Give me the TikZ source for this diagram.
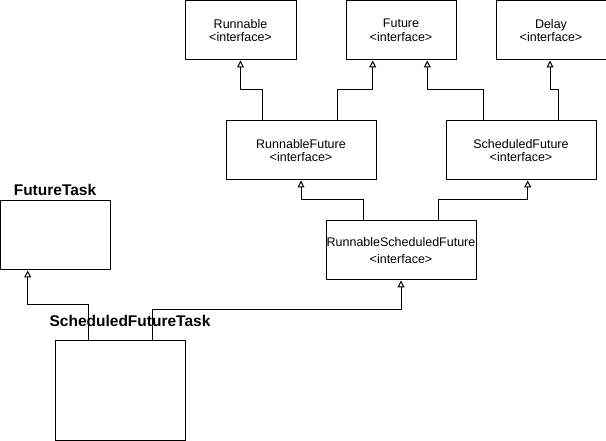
\documentclass[tikz,border=0pt]{standalone}
\usepackage{fontspec}
\setmainfont{Liberation Sans}
\usetikzlibrary{arrows.meta}
\begin{document}
\begin{tikzpicture}[x=1pt,y=-1pt,
  iface/.style={draw=black, line width=1pt, fill=white, inner sep=0pt, align=center,
    font=\fontsize{12.5}{13.5}\selectfont, minimum width=150pt, minimum height=59pt},
  cls/.style={draw=black, line width=1pt, fill=white, inner sep=0pt},
  title/.style={inner sep=0pt, font=\fontsize{15.5}{18}\selectfont\bfseries},
  arr/.style={draw=black, line width=1pt, -{Triangle[open, length=7pt, width=7pt]}}]
\useasboundingbox (0,0) rectangle (606,441);
\node[iface, minimum width=111pt] (runnable) at (240.5,30.5) {Runnable\\<interface>};
\node[iface, minimum width=110pt] (future) at (401,30.5) {Future\\<interface>};
\node[iface, minimum width=110pt] (delay) at (551,30.5) {Delay\\<interface>};
\node[iface] (rf) at (301,150.5) {RunnableFuture\\<interface>};
\node[iface] (sf) at (521,150.5) {ScheduledFuture\\<interface>};
\node[iface] (rsf) at (401,250.5) {RunnableScheduledFuture\\[3.5pt]<interface>};
\node[cls, minimum width=110pt, minimum height=69pt] (ft) at (55,235.5) {};
\node[cls, minimum width=130pt, minimum height=100pt] (sft) at (120,390) {};
\node[title] (ftlabel) at (55,190) {FutureTask};
\node[title] (sftlabel) at (130,321) {ScheduledFutureTask};
% connectors
\draw[arr] ([xshift=-38.3pt]rf.north) -- ++(0,-31) -| (runnable.south);
\draw[arr] ([xshift=36.7pt]rf.north) -- ++(0,-31) -| ([xshift=-28.3pt]future.south);
\draw[arr] ([xshift=-37.7pt]sf.north) -- ++(0,-31) -| ([xshift=26.3pt]future.south);
\draw[arr] ([xshift=37.3pt]sf.north) -- ++(0,-31) -| ([xshift=-1pt]delay.south);
\draw[arr] ([xshift=-37.7pt]rsf.north) -- ++(0,-21) -| (rf.south);
\draw[arr] ([xshift=37.3pt]rsf.north) -- ++(0,-21) -| ([xshift=6.7pt]sf.south);
\draw[arr] ([xshift=-32pt]sft.north) -- ++(0,-35) -| ([xshift=-27.3pt]ft.south);
\draw[arr] ([xshift=32.7pt]sft.north) -- ++(0,-30) -| (rsf.south);
\end{tikzpicture}
\end{document}
